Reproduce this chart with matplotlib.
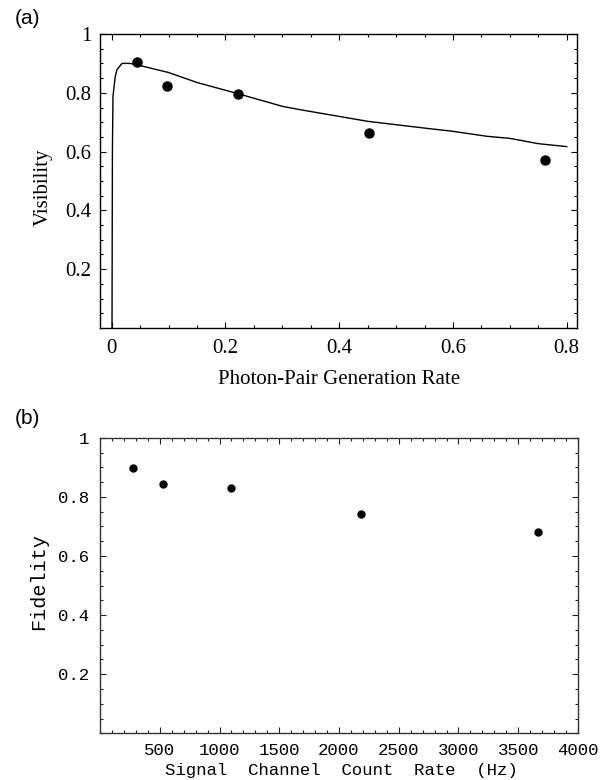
"""
Visibility vs pair rate (a) and fidelity vs count rate (b)
"""
import matplotlib
matplotlib.use('Agg')
import matplotlib.pyplot as plt
from matplotlib.ticker import MultipleLocator, FuncFormatter

# panel (a) data
rate_pts = [0.045, 0.098, 0.222, 0.452, 0.762]
vis_pts = [0.905, 0.824, 0.797, 0.662, 0.572]

curve_rate = [0.0005, 0.0012, 0.0022, 0.006, 0.009, 0.018, 0.032, 0.045,
              0.1, 0.15, 0.222, 0.3, 0.33, 0.45, 0.55, 0.6, 0.66, 0.7, 0.75, 0.8]
curve_vis = [0.0, 0.6, 0.787, 0.853, 0.878, 0.90, 0.90, 0.895,
             0.869, 0.835, 0.797, 0.754, 0.743, 0.703, 0.680, 0.669, 0.652, 0.645, 0.627, 0.617]

# panel (b) data
count_rate = [275, 530, 1097, 2186, 3663]
fidelity = [0.897, 0.843, 0.830, 0.742, 0.681]

serif = 'Liberation Serif'
mono = 'Liberation Mono'
sans = 'Liberation Sans'

fmt = FuncFormatter(lambda v, p: '%g' % round(v, 6))

fig = plt.figure(figsize=(6.01, 7.8), dpi=100)

# ---- (a) ----
ax1 = fig.add_axes([0.1664, 0.5795, 0.7936, 0.3769])
ax1.plot(curve_rate, curve_vis, color='black', linewidth=1.0)
ax1.plot(rate_pts, vis_pts, 'o', color='black', markersize=6.5)
ax1.set_xlim(-0.0206, 0.818)
ax1.set_ylim(0, 1)
ax1.xaxis.set_major_locator(MultipleLocator(0.2))
ax1.xaxis.set_minor_locator(MultipleLocator(0.05))
ax1.yaxis.set_minor_locator(MultipleLocator(0.05))
ax1.set_yticks([0.2, 0.4, 0.6, 0.8, 1.0])
ax1.xaxis.set_major_formatter(fmt)
ax1.yaxis.set_major_formatter(fmt)
ax1.tick_params(which='both', direction='in', top=True, right=True, width=0.8)
ax1.tick_params(which='major', length=4)
ax1.tick_params(which='minor', length=2)
ax1.tick_params(axis='x', pad=8)
ax1.tick_params(axis='y', pad=6)
for lab in ax1.get_xticklabels() + ax1.get_yticklabels():
    lab.set_fontfamily(serif)
    lab.set_fontsize(15)
for s in ax1.spines.values():
    s.set_linewidth(1.0)
ax1.set_xlabel('Photon-Pair Generation Rate', fontfamily=serif, fontsize=15)
ax1.set_ylabel('Visibility', fontfamily=serif, fontsize=15)
ax1.xaxis.set_label_coords(0.501, -0.143)
ax1.yaxis.set_label_coords(-0.099, 0.48)
fig.text(27 / 601, 1 - 19 / 780, '(a)', fontfamily=sans, fontsize=15,
         ha='center', va='center')

# ---- (b) ----
ax2 = fig.add_axes([0.1664, 0.0599, 0.7953, 0.3789])
ax2.plot(count_rate, fidelity, 'o', color='black', markersize=5)
ax2.set_xlim(0, 4000)
ax2.set_ylim(0, 1)
ax2.set_xticks([500, 1000, 1500, 2000, 2500, 3000, 3500, 4000])
ax2.xaxis.set_minor_locator(MultipleLocator(100))
ax2.set_yticks([0.2, 0.4, 0.6, 0.8, 1.0])
ax2.yaxis.set_minor_locator(MultipleLocator(0.05))
ax2.xaxis.set_major_formatter(fmt)
ax2.yaxis.set_major_formatter(fmt)
ax2.tick_params(which='both', direction='in', top=True, right=True, width=0.8,
                color='#222222')
ax2.tick_params(which='major', length=4)
ax2.tick_params(which='minor', length=2)
ax2.tick_params(axis='x', pad=7)
ax2.tick_params(axis='y', pad=8)
for lab in ax2.get_xticklabels() + ax2.get_yticklabels():
    lab.set_fontfamily(mono)
    lab.set_fontsize(12.5)
for s in ax2.spines.values():
    s.set_linewidth(1.0)
    s.set_color('#333333')
ax2.set_xlabel('Signal  Channel  Count  Rate  (Hz)', fontfamily=mono, fontsize=12.5)
ax2.set_ylabel('Fidelity', fontfamily=mono, fontsize=14.5)
ax2.xaxis.set_label_coords(0.506, -0.10)
ax2.yaxis.set_label_coords(-0.108, 0.512)
fig.text(27 / 601, 1 - 419 / 780, '(b)', fontfamily=sans, fontsize=15,
         ha='center', va='center')

plt.savefig('out.png', dpi=100, facecolor='white')
